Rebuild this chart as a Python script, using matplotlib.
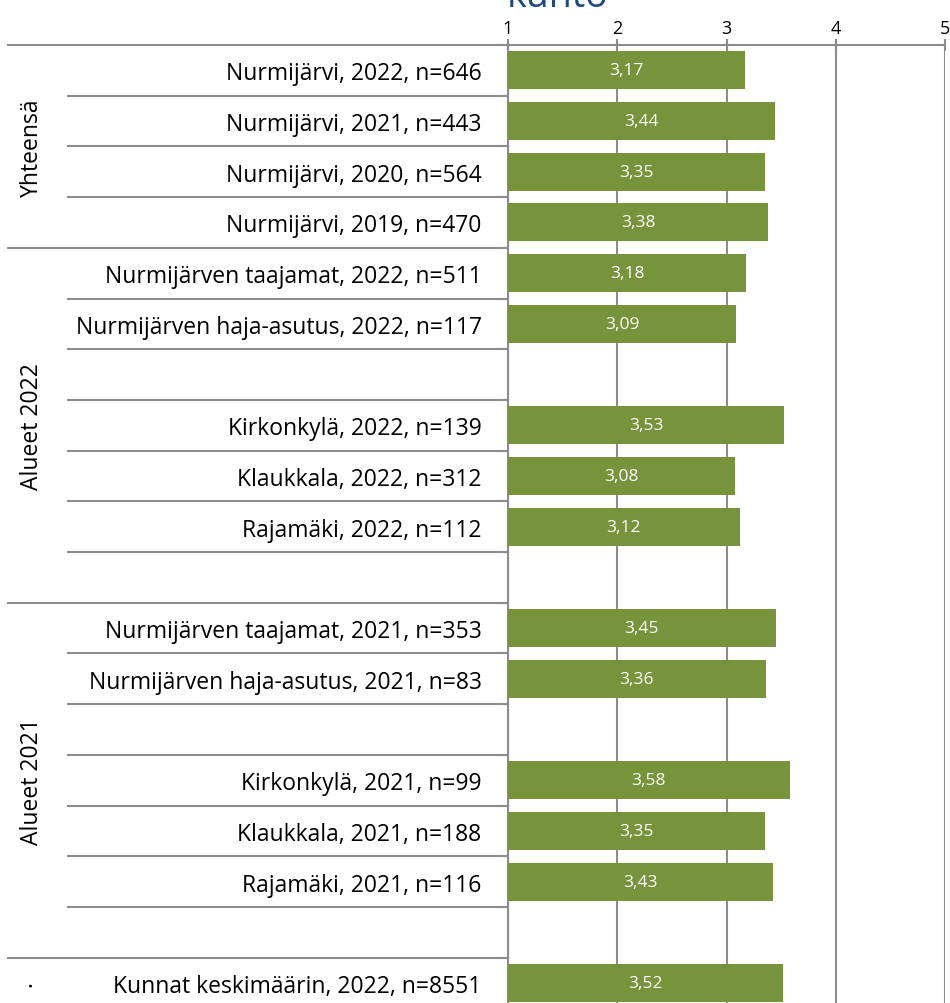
import matplotlib
matplotlib.use("Agg")
import matplotlib.pyplot as plt
import matplotlib.transforms as mtransforms
import numpy as np

plt.rcParams['font.family'] = ['Open Sans', 'DejaVu Sans']

# Data
labels = [
    "Nurmijärvi, 2022, n=646",
    "Nurmijärvi, 2021, n=443",
    "Nurmijärvi, 2020, n=564",
    "Nurmijärvi, 2019, n=470",
    "Nurmijärven taajamat, 2022, n=511",
    "Nurmijärven haja-asutus, 2022, n=117",
    "",
    "Kirkonkylä, 2022, n=139",
    "Klaukkala, 2022, n=312",
    "Rajamäki, 2022, n=112",
    "",
    "Nurmijärven taajamat, 2021, n=353",
    "Nurmijärven haja-asutus, 2021, n=83",
    "",
    "Kirkonkylä, 2021, n=99",
    "Klaukkala, 2021, n=188",
    "Rajamäki, 2021, n=116",
    "",
    "Kunnat keskimäärin, 2022, n=8551",
]
values = [3.17, 3.44, 3.35, 3.38, 3.18, 3.09, np.nan, 3.53, 3.08, 3.12, np.nan,
          3.45, 3.36, np.nan, 3.58, 3.35, 3.43, np.nan, 3.52]
groups = ["Yhteensä", "Alueet 2022", "Alueet 2021", "·"]
group_spans = [(0, 3), (4, 10), (11, 17), (18, 18)]
x_ticks = [1, 2, 3, 4, 5]
title = "kunto"

bar_color = "#77933C"
line_color = "#8C8C8C"

fig = plt.figure(figsize=(9.5, 10.04), dpi=100)
n = len(labels)
top = 1 - 46 / 1004
height = n * 50.7 / 1004
ax = fig.add_axes([508 / 950, top - height, 437 / 950, height])

y = np.arange(n)
ax.barh(y, np.array(values) - 1, left=1, height=0.75, color=bar_color, zorder=3)
for yi, v in zip(y, values):
    if not np.isnan(v):
        ax.text(1 + (v - 1) / 2, yi, f"{v:.2f}".replace(".", ","), color="white",
                ha="center", va="center", fontsize=12.5, zorder=4)

ax.set_xlim(1, 5)
ax.set_ylim(n - 0.5, -0.5)
ax.xaxis.tick_top()
ax.set_xticks(x_ticks)
ax.set_xticklabels([str(t) for t in x_ticks], fontsize=13)
ax.tick_params(axis="x", direction="inout", length=9, width=1.5, color=line_color, pad=1)
ax.grid(axis="x", color=line_color, linewidth=1.5, zorder=0)

ax.set_yticks(y)
ax.set_yticklabels(labels, fontsize=16.5)
ax.tick_params(axis="y", length=0, pad=19)
ax.set_yticks(np.arange(-0.5, n, 1), minor=True)
ax.tick_params(axis="y", which="minor", length=8, width=1.5, color=line_color)

for s in ["right", "bottom"]:
    ax.spines[s].set_visible(False)
for s in ["left", "top"]:
    ax.spines[s].set_color(line_color)
    ax.spines[s].set_linewidth(1.5)

# row separators in the label area
trans = mtransforms.blended_transform_factory(fig.transFigure, ax.transData)
group_starts = [s for s, e in group_spans]
for b in np.arange(-0.5, n - 0.5, 1):
    x0 = 8 / 950 if (b + 0.5) in group_starts else 68 / 950
    ax.plot([x0, 508 / 950], [b, b], color=line_color, linewidth=1.5,
            transform=trans, clip_on=False)

for g, (s, e) in zip(groups, group_spans):
    ax.text(32 / 950, (s + e) / 2, g, rotation=90, ha="center", va="center",
            fontsize=16.5, transform=trans)

fig.text(507 / 950, 1 - 7 / 1004, title, color="#1F497D", fontsize=27,
         ha="left", va="baseline")

fig.savefig("out.png", dpi=100)
